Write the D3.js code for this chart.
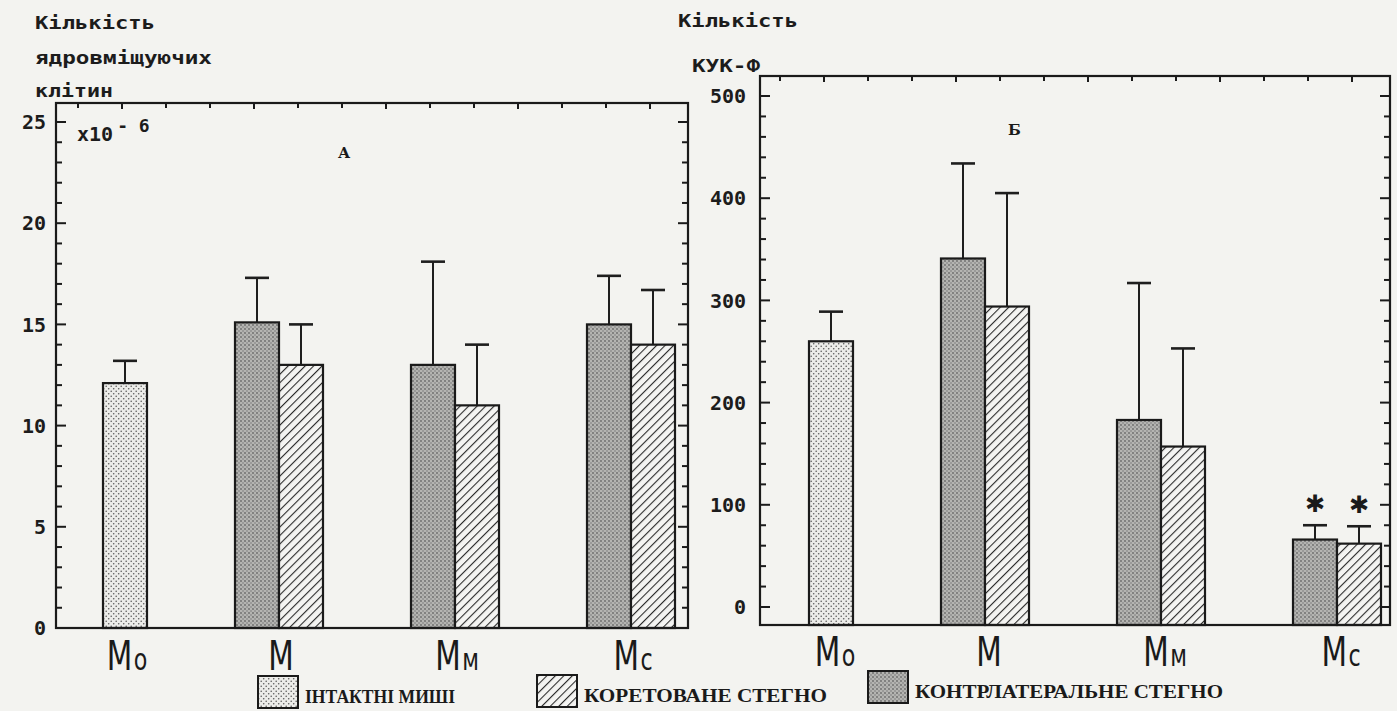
<!DOCTYPE html>
<html><head><meta charset="utf-8">
<script src="https://cdn.jsdelivr.net/npm/d3@7"></script>
<style>
body{margin:0;background:#f3f3f0;}
svg{display:block;}
</style>
</head><body>
<svg id="chart" width="1397" height="711"></svg>
<script>
// ---------- data ----------
const categories = ["Mo", "M", "Mm", "Mc"];
const categoryMain = ["M", "M", "M", "M"];
const categorySub = ["o", "", "м", "c"];

// Panel A: nucleated cells (x10^-6)
const nuclIntact   = [12.1, null, null, null];
const nuclIntactSd = [1.1, null, null, null];
const nuclContra   = [null, 15.1, 13.0, 15.0];
const nuclContraSd = [null, 2.2, 5.1, 2.4];
const nuclCuret    = [null, 13.0, 11.0, 14.0];
const nuclCuretSd  = [null, 2.0, 3.0, 2.7];
const nuclTicks = [0, 5, 10, 15, 20, 25];

// Panel B: CFU-F
const cfuIntact   = [260, null, null, null];
const cfuIntactSd = [29, null, null, null];
const cfuContra   = [null, 341, 183, 66];
const cfuContraSd = [null, 93, 134, 14];
const cfuCuret    = [null, 294, 157, 62];
const cfuCuretSd  = [null, 111, 96, 17];
const cfuSignificant = [false, false, false, true];
const cfuTicks = [0, 100, 200, 300, 400, 500];

const legendLabels = ["ІНТАКТНІ МИШІ", "КОРЕТОВАНЕ СТЕГНО", "КОНТРЛАТЕРАЛЬНЕ СТЕГНО"];

// ---------- drawing ----------
const svg = d3.select("#chart");
svg.append("rect").attr("width", 1397).attr("height", 711).attr("fill", "#f3f3f0");

const defs = svg.append("defs");
// intact: light dotted
const pI = defs.append("pattern").attr("id", "patIntact").attr("patternUnits", "userSpaceOnUse")
  .attr("width", 5).attr("height", 5);
pI.append("rect").attr("width", 5).attr("height", 5).attr("fill", "#ecece9");
pI.append("circle").attr("cx", 1.2).attr("cy", 1.2).attr("r", 0.8).attr("fill", "#5a5a5a");
pI.append("circle").attr("cx", 3.7).attr("cy", 3.7).attr("r", 0.8).attr("fill", "#5a5a5a");
// curetted: diagonal hatch
const pC = defs.append("pattern").attr("id", "patCuret").attr("patternUnits", "userSpaceOnUse")
  .attr("width", 6).attr("height", 6).attr("patternTransform", "rotate(45)");
pC.append("rect").attr("width", 6).attr("height", 6).attr("fill", "#f4f4f2");
pC.append("line").attr("x1", 0).attr("y1", 0).attr("x2", 0).attr("y2", 6)
  .attr("stroke", "#2a2a2a").attr("stroke-width", 2.2);
// contralateral: dense dark stipple
const pK = defs.append("pattern").attr("id", "patContra").attr("patternUnits", "userSpaceOnUse")
  .attr("width", 4).attr("height", 4);
pK.append("rect").attr("width", 4).attr("height", 4).attr("fill", "#b4b4b1");
pK.append("circle").attr("cx", 1).attr("cy", 1).attr("r", 0.9).attr("fill", "#6a6a6a");
pK.append("circle").attr("cx", 3).attr("cy", 3).attr("r", 0.8).attr("fill", "#7a7a7a");

const fills = {intact: "url(#patIntact)", curet: "url(#patCuret)", contra: "url(#patContra)"};
const monoFont = "'DejaVu Sans Mono', 'Liberation Mono', monospace";

function drawPanel(cfg) {
  const g = svg.append("g");
  const f = cfg.frame;
  const y = d3.scaleLinear().domain(cfg.yDomain).range(cfg.yRange);
  const x = d3.scaleBand().domain(categories).range(cfg.xRange).paddingInner(0.5).paddingOuter(0);
  const sub = d3.scaleBand().domain(["left", "right"]).range([0, x.bandwidth()]);

  // build bar records
  const bars = [];
  categories.forEach((c, i) => {
    if (cfg.intact[i] != null) bars.push({cat: c, slot: "right", v: cfg.intact[i], sd: cfg.intactSd[i], kind: "intact", i});
    if (cfg.contra[i] != null) bars.push({cat: c, slot: "left", v: cfg.contra[i], sd: cfg.contraSd[i], kind: "contra", i});
    if (cfg.curet[i] != null) bars.push({cat: c, slot: "right", v: cfg.curet[i], sd: cfg.curetSd[i], kind: "curet", i});
  });
  const bx = d => x(d.cat) + sub(d.slot);
  const bw = sub.bandwidth();

  // error bars
  g.selectAll(".err").data(bars).enter().append("line")
    .attr("x1", d => bx(d) + bw / 2).attr("x2", d => bx(d) + bw / 2)
    .attr("y1", d => y(d.v)).attr("y2", d => y(d.v + d.sd))
    .attr("stroke", "#1e1e1e").attr("stroke-width", 2);
  g.selectAll(".cap").data(bars).enter().append("line")
    .attr("x1", d => bx(d) + bw / 2 - 12).attr("x2", d => bx(d) + bw / 2 + 12)
    .attr("y1", d => y(d.v + d.sd)).attr("y2", d => y(d.v + d.sd))
    .attr("stroke", "#1e1e1e").attr("stroke-width", 2.6);

  g.selectAll(".bar").data(bars).enter().append("rect")
    .attr("x", bx).attr("width", bw)
    .attr("y", d => y(d.v)).attr("height", d => f.b - y(d.v))
    .attr("fill", d => fills[d.kind]).attr("stroke", "#1a1a1a").attr("stroke-width", 2.2);

  // significance asterisks
  if (cfg.sig) {
    g.selectAll(".sig").data(bars.filter(d => cfg.sig[d.i])).enter().append("text")
      .attr("x", d => bx(d) + bw / 2).attr("y", d => y(d.v + d.sd) - 13)
      .attr("text-anchor", "middle").attr("font-family", "'DejaVu Sans', sans-serif")
      .attr("font-size", 24).attr("font-weight", "bold").attr("fill", "#1a1a1a").text("✱");
  }

  // frame
  g.append("rect").attr("x", f.l).attr("y", f.t).attr("width", f.r - f.l).attr("height", f.b - f.t)
    .attr("fill", "none").attr("stroke", "#1a1a1a").attr("stroke-width", 2.2);

  // minor & major ticks left (inward) and right (inward)
  const minor = d3.range(cfg.yDomain[0], cfg.yDomain[1] + cfg.minorStep / 2, cfg.minorStep);
  const tickG = g.append("g").attr("stroke", "#1a1a1a").attr("stroke-width", 2);
  minor.forEach(v => {
    const major = cfg.ticks.includes(v);
    const len = major ? 10 : 6;
    tickG.append("line").attr("x1", f.l).attr("x2", f.l + len).attr("y1", y(v)).attr("y2", y(v));
    tickG.append("line").attr("x1", f.r).attr("x2", f.r - len).attr("y1", y(v)).attr("y2", y(v));
  });
  // top ticks
  const topStep = x.step() / 4;
  d3.range(f.l + cfg.topOffset, f.r - 5, topStep).forEach((px, k) => {
    tickG.append("line").attr("x1", px).attr("x2", px).attr("y1", f.t).attr("y2", f.t + (k % 3 === 1 ? 6 : 5));
  });

  // tick labels
  g.selectAll(".tl").data(cfg.ticks).enter().append("text")
    .attr("x", cfg.labelX).attr("y", d => y(d)).attr("dy", "0.36em")
    .attr("text-anchor", "end").attr("font-family", monoFont).attr("font-weight", "bold")
    .attr("font-size", 20).attr("fill", "#1c1c1c").text(d => d);

  // category labels
  categories.forEach((c, i) => {
    const present = bars.filter(d => d.i === i);
    const cx = d3.mean(present, d => bx(d) + bw / 2) + cfg.catShift;
    const t = g.append("g").attr("transform", `translate(${cx},${cfg.catY}) scale(0.74,1)`)
      .append("text").attr("text-anchor", "middle")
      .attr("font-family", "'DejaVu Sans', sans-serif").attr("font-weight", 400)
      .attr("fill", "#1a1a1a");
    t.append("tspan").attr("font-size", 40).text(categoryMain[i]);
    if (categorySub[i]) t.append("tspan").attr("dx", 2).attr("font-size", 30).text(categorySub[i]);
  });

  // panel letter
  g.append("text").attr("x", cfg.letterPos[0]).attr("y", cfg.letterPos[1])
    .attr("font-family", "'DejaVu Serif', serif").attr("font-weight", "bold")
    .attr("font-size", 15).attr("fill", "#1a1a1a").text(cfg.letter);

  // axis title lines
  cfg.title.forEach(tl => {
    g.append("text").attr("x", tl.x).attr("y", tl.y)
      .attr("font-family", monoFont).attr("font-weight", "bold").attr("font-size", 18)
      .attr("textLength", tl.w).attr("lengthAdjust", "spacingAndGlyphs")
      .attr("fill", "#1c1c1c").text(tl.text);
  });
  return {x, y};
}

drawPanel({
  frame: {l: 56, t: 103, r: 688, b: 628},
  yDomain: [0, 25], yRange: [628, 122], xRange: [59, 675],
  intact: nuclIntact, intactSd: nuclIntactSd,
  contra: nuclContra, contraSd: nuclContraSd,
  curet: nuclCuret, curetSd: nuclCuretSd,
  ticks: nuclTicks, minorStep: 1, labelX: 46, topOffset: 22,
  catY: 670, catShift: 2,
  letter: "А", letterPos: [338, 158],
  title: [
    {text: "Кількість", x: 35, y: 29, w: 120},
    {text: "ядровміщуючих", x: 35, y: 64, w: 177},
    {text: "клітин", x: 35, y: 97, w: 78}
  ]
});

drawPanel({
  frame: {l: 760, t: 76, r: 1390, b: 625},
  yDomain: [0, 500], yRange: [607, 96], xRange: [765, 1381],
  intact: cfuIntact, intactSd: cfuIntactSd,
  contra: cfuContra, contraSd: cfuContraSd,
  curet: cfuCuret, curetSd: cfuCuretSd,
  sig: cfuSignificant,
  ticks: cfuTicks, minorStep: 20, labelX: 746, topOffset: 20,
  catY: 666, catShift: 4,
  letter: "Б", letterPos: [1008, 135],
  title: [
    {text: "Кількість", x: 678, y: 27, w: 120},
    {text: "КУК-Ф", x: 692, y: 72, w: 68}
  ]
});

// x10^-6 multiplier
const mult = svg.append("text").attr("x", 77).attr("y", 141)
  .attr("font-family", monoFont).attr("font-weight", "bold").attr("font-size", 20).attr("fill", "#1c1c1c");
mult.append("tspan").text("x10");
mult.append("tspan").attr("dx", 4).attr("dy", -9).attr("font-size", 18).text("- 6");

// legend
const legendKinds = ["intact", "curet", "contra"];
const legendX = [258, 537, 868];
const legendY = [676, 675, 671];
const legendW = [150, 243, 308];
const lg = svg.append("g");
legendKinds.forEach((k, i) => {
  lg.append("rect").attr("x", legendX[i]).attr("y", legendY[i]).attr("width", 40).attr("height", 32)
    .attr("fill", fills[k]).attr("stroke", "#1a1a1a").attr("stroke-width", 2);
  lg.append("text").attr("x", legendX[i] + 47).attr("y", legendY[i] + 27)
    .attr("font-family", "'Liberation Serif', 'DejaVu Serif', serif").attr("font-weight", "bold")
    .attr("font-size", 19).attr("textLength", legendW[i]).attr("lengthAdjust", "spacingAndGlyphs")
    .attr("fill", "#1a1a1a").text(legendLabels[i]);
});
</script>
</body></html>
